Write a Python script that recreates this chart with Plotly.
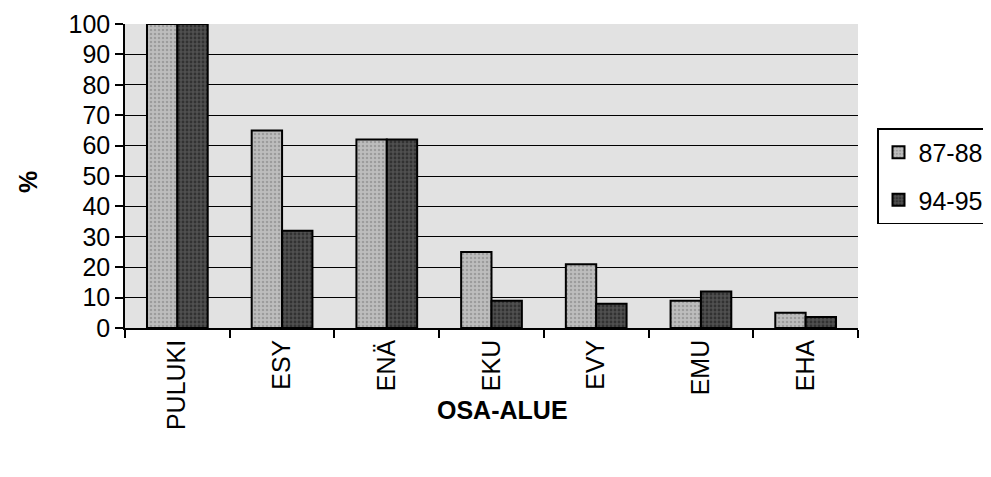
import plotly.graph_objects as go

categories = ["PULUKI", "ESY", "ENÄ", "EKU", "EVY", "EMU", "EHA"]
s1_name = "87-88"
s1_values = [100, 65, 62, 25, 21, 9, 5]
s2_name = "94-95"
s2_values = [100, 32, 62, 9, 8, 12, 3.6]
y_ticks = [0, 10, 20, 30, 40, 50, 60, 70, 80, 90, 100]
x_title = "OSA-ALUE"
y_title = "%"

font_family = "Liberation Sans, Arial, sans-serif"

# page has an 8px body margin; figure is sized so the plot lands where the reference has it
W, H = 983, 469
ML, MR, MT, MB = 117, 133, 16, 149
plot_w = W - ML - MR
plot_h = H - MT - MB
OFF = 8  # body margin


def px_x(page_x):
    return (page_x - OFF - ML) / plot_w


def px_y(page_y):
    return (H - MB - (page_y - OFF)) / plot_h


fig = go.Figure()
fig.add_trace(go.Bar(
    x=categories, y=s1_values, name=s1_name, legendgroup="a",
    marker=dict(color="#aaaaaa", line=dict(color="black", width=2),
                pattern=dict(shape=".", fgcolor="#7a7a7a", bgcolor="#bdbdbd", size=4, solidity=0.3)),
))
fig.add_trace(go.Bar(
    x=categories, y=s2_values, name=s2_name, legendgroup="b",
    marker=dict(color="#383838", line=dict(color="black", width=2),
                pattern=dict(shape=".", fgcolor="#141414", bgcolor="#505050", size=4, solidity=0.4)),
))

fig.update_layout(
    width=W, height=H,
    margin=dict(l=ML, r=MR, t=MT, b=MB, autoexpand=False),
    paper_bgcolor="white",
    plot_bgcolor="#e2e2e2",
    barmode="group",
    bargap=0.42,
    bargroupgap=0,
    font=dict(family=font_family, size=25, color="black"),
    showlegend=True,
    legend=dict(
        x=px_x(877), y=px_y(128), xanchor="left", yanchor="top",
        bordercolor="black", borderwidth=1.5,
        font=dict(size=25, family=font_family),
        tracegroupgap=12, itemsizing="constant", itemwidth=30,
        traceorder="grouped",
    ),
    xaxis=dict(
        type="category", automargin=False,
        showline=True, linecolor="black", linewidth=1.5,
        ticks="outside", tickson="boundaries", ticklen=8, tickcolor="black", tickwidth=1.5,
        tickangle=-90,
        tickfont=dict(size=25, family=font_family),
        showgrid=False,
    ),
    yaxis=dict(
        range=[0, 100], automargin=False,
        tickvals=y_ticks,
        showline=True, linecolor="black", linewidth=1.5,
        ticks="outside", ticklen=8, tickcolor="black", tickwidth=1.5,
        tickfont=dict(size=25, family=font_family),
        showgrid=True, gridcolor="black", gridwidth=1.2,
        zeroline=False,
    ),
    annotations=[
        dict(text="<b>" + x_title + "</b>", x=px_x(502), y=px_y(410), xref="paper", yref="paper",
             xanchor="center", yanchor="middle",
             showarrow=False, font=dict(size=25, family=font_family)),
        dict(text="<b>" + y_title + "</b>", x=px_x(28), y=px_y(182), xref="paper", yref="paper",
             xanchor="center", yanchor="middle",
             showarrow=False, textangle=-90,
             font=dict(size=25, family=font_family)),
    ],
)

fig.write_html("out.html")
